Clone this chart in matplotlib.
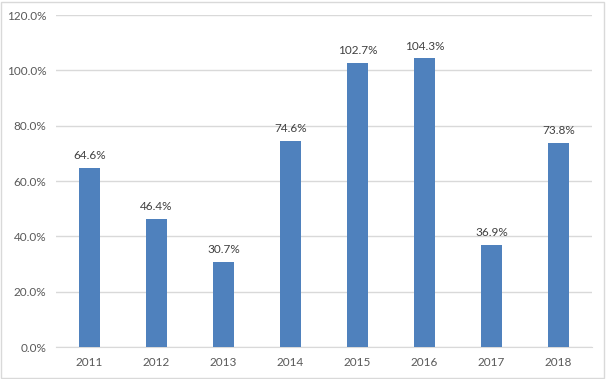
import matplotlib
matplotlib.use("Agg")
import matplotlib.pyplot as plt
import matplotlib.patches
import numpy as np

# данные
years = ["2011", "2012", "2013", "2014", "2015", "2016", "2017", "2018"]
values = [64.6, 46.4, 30.7, 74.6, 102.7, 104.3, 36.9, 73.8]
y_ticks = [0, 20, 40, 60, 80, 100, 120]

plt.rcParams['font.family'] = ['Lato', 'DejaVu Sans']

fig = plt.figure(figsize=(6.06, 3.79), dpi=100)
ax = fig.add_axes([0.0924, 0.0844, 0.8845, 0.876])

x = np.arange(len(years))
ax.bar(x, values, width=0.31, color="#4F81BD", zorder=3)

for xi, v in zip(x, values):
    ax.text(xi, v + 2.5, "%.1f%%" % v, ha="center", va="bottom",
            fontsize=8.5, color="#404040")

ax.set_xlim(-0.5, len(years) - 0.5)
ax.set_ylim(0, 120)
ax.set_xticks(x)
ax.set_xticklabels(years)
ax.set_yticks(y_ticks)
ax.set_yticklabels(["%.1f%%" % t for t in y_ticks])
ax.grid(axis="y", color="#D9D9D9", linewidth=1, zorder=0)
ax.tick_params(length=0, labelsize=8.5, colors="#595959", pad=7)
for side in ["top", "right", "left"]:
    ax.spines[side].set_visible(False)
ax.spines["bottom"].set_color("#D9D9D9")

# рамка вокруг рисунка
border = matplotlib.patches.Rectangle((0.002, 0.003), 0.995, 0.993, transform=fig.transFigure,
                                      fill=False, edgecolor="#D9D9D9", linewidth=1)
fig.patches.append(border)

fig.savefig("out.png", dpi=100)
